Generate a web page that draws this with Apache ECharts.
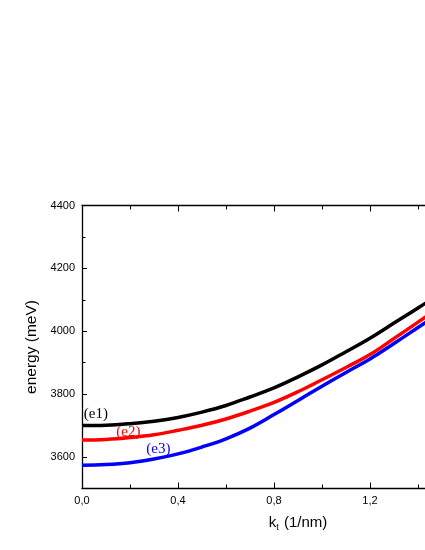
<!DOCTYPE html>
<html>
<head>
<meta charset="utf-8">
<script src="https://cdn.jsdelivr.net/npm/echarts@6/dist/echarts.min.js"></script>
<style>
  html, body { margin: 0; padding: 0; background: #fff; }
  #chart { width: 425px; height: 550px; }
</style>
</head>
<body>
<div id="chart"></div>
<script>
var kValues = [0, 0.1, 0.2, 0.3, 0.4, 0.5, 0.6, 0.7, 0.8, 0.9, 1.0, 1.1, 1.2, 1.3, 1.4, 1.5, 1.6];
var e1 = [3700, 3701, 3706, 3714, 3726, 3743, 3764, 3791, 3820, 3855, 3893, 3935, 3978, 4026, 4074, 4124, 4176];
var e2 = [3654, 3656, 3662, 3671, 3685, 3701, 3721, 3746, 3774, 3808, 3846, 3885, 3926, 3977, 4029, 4081, 4134];
var e3 = [3574, 3576, 3582, 3594, 3610, 3632, 3658, 3692, 3735, 3780, 3825, 3869, 3912, 3961, 4012, 4063, 4115];

var seriesNames = ['(e1)', '(e2)', '(e3)'];
var seriesColors = ['#000000', '#ff0000', '#0000ff'];
// where the curve names sit, in data units
var nameAt = [[0.058, 3737], [0.193, 3680], [0.318, 3627]];

var yMajor = [3600, 3800, 4000, 4200, 4400];
var yMinor = [3500, 3700, 3900, 4100, 4300];

function pairs(ys) {
  var out = [];
  for (var i = 0; i < kValues.length; i++) out.push([kValues[i], ys[i]]);
  return out;
}

var chart = echarts.init(document.getElementById('chart'));

var tickFont = { fontFamily: 'Liberation Sans', fontSize: 11, color: '#000' };

var series = [];

// curve names as text placed through the axes (drawn under the lines)
seriesNames.forEach(function (nm, i) {
  series.push({
    type: 'scatter',
    symbol: 'circle',
    symbolSize: 0.5,
    silent: true,
    itemStyle: { color: '#ffffff', opacity: 1 },
    data: [nameAt[i]],
    label: {
      show: true,
      position: 'inside',
      formatter: nm,
      fontFamily: 'Liberation Serif',
      fontSize: 15,
      opacity: 1,
      color: seriesColors[i]
    },
    z: 1
  });
});

[e1, e2, e3].forEach(function (ys, i) {
  series.push({
    name: seriesNames[i],
    type: 'line',
    smooth: 0.4,
    showSymbol: false,
    data: pairs(ys),
    lineStyle: { color: seriesColors[i], width: 3.5 },
    itemStyle: { color: seriesColors[i] },
    z: 3
  });
});

var option = {
  animation: false,
  backgroundColor: '#fff',
  grid: { left: 82, top: 205.5, bottom: 61.5, right: -89, outerBoundsMode: 'none', containLabel: false },
  xAxis: [{
    type: 'value',
    min: 0, max: 1.8, interval: 0.4,
    position: 'bottom',
    name: 'k{sub|t} (1/nm)',
    nameLocation: 'middle',
    nameGap: 25,
    nameTextStyle: {
      fontFamily: 'Liberation Sans', fontSize: 15, color: '#000',
      rich: { sub: { fontFamily: 'Liberation Sans', fontSize: 9, color: '#000', verticalAlign: 'bottom', padding: [10, 1, 0, 0] } }
    },
    axisLine: { lineStyle: { color: '#000', width: 1.3 } },
    axisTick: { inside: true, length: 6, lineStyle: { color: '#000', width: 1 } },
    minorTick: { show: true, splitNumber: 2, length: 4, lineStyle: { color: '#000', width: 1 } },
    splitLine: { show: false },
    axisLabel: Object.assign({ margin: 7, formatter: function (v) { return v.toFixed(1).replace('.', ','); } }, tickFont)
  }, {
    type: 'value',
    min: 0, max: 1.8, interval: 0.4,
    position: 'top',
    axisLine: { lineStyle: { color: '#000', width: 1.3 } },
    axisTick: { inside: true, length: 6, lineStyle: { color: '#000', width: 1 } },
    minorTick: { show: true, splitNumber: 2, length: 4, lineStyle: { color: '#000', width: 1 } },
    splitLine: { show: false },
    axisLabel: { show: false }
  }],
  yAxis: [{
    type: 'value',
    min: 3500, max: 4400,
    name: 'energy (meV)',
    nameLocation: 'middle',
    nameGap: 42,
    nameTextStyle: { fontFamily: 'Liberation Sans', fontSize: 15.5, color: '#000' },
    axisLine: { show: true, lineStyle: { color: '#000', width: 1.3 } },
    axisTick: { inside: true, length: 5, customValues: yMajor, lineStyle: { color: '#000', width: 1 } },
    splitLine: { show: false },
    axisLabel: Object.assign({ margin: 7, customValues: yMajor, formatter: function (v) { return String(v); } }, tickFont)
  }, {
    // second copy only for the short minor ticks
    type: 'value',
    min: 3500, max: 4400,
    position: 'left',
    axisLine: { show: false },
    axisTick: { inside: true, length: 3.5, customValues: yMinor, lineStyle: { color: '#000', width: 1 } },
    splitLine: { show: false },
    axisLabel: { show: false }
  }],
  series: series
};

chart.setOption(option);
</script>
</body>
</html>
